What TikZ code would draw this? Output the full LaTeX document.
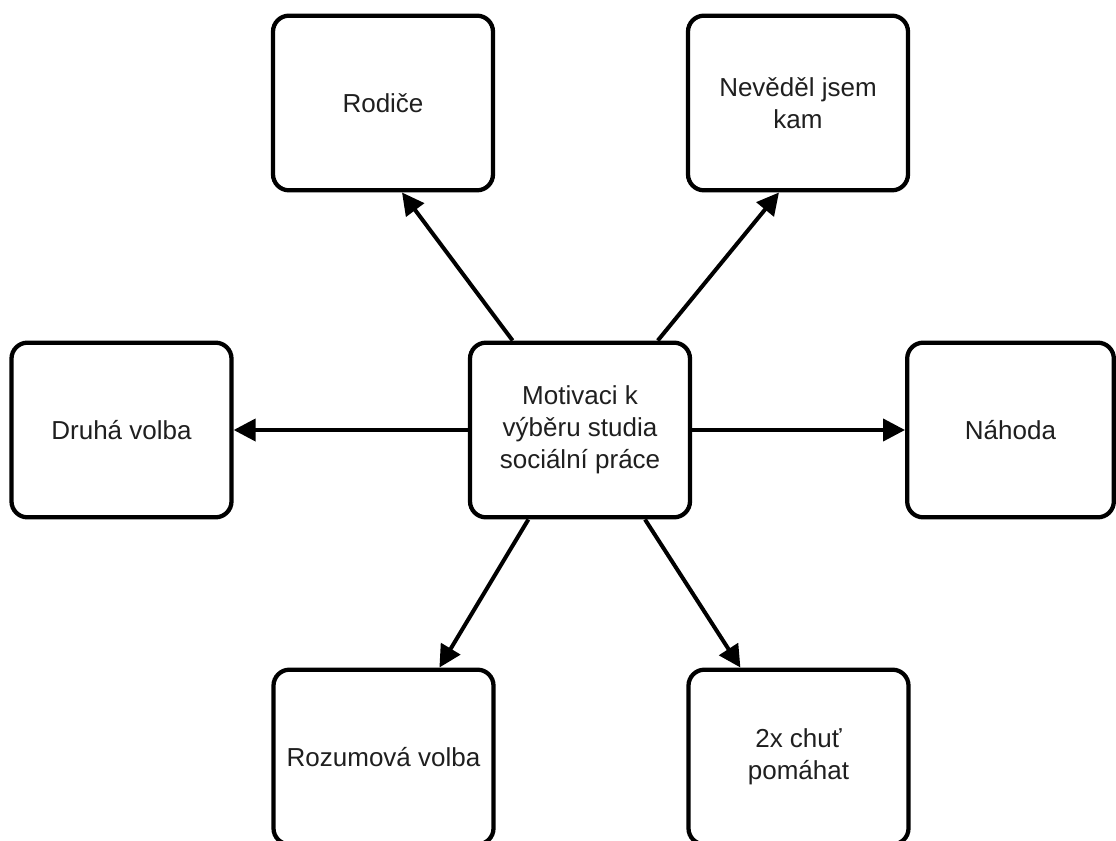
\documentclass[tikz,border=0pt]{standalone}
\usepackage{fontspec}
\setmainfont{Liberation Sans}
\usetikzlibrary{arrows.meta}

\tikzset{
  box/.style={draw, line width=3.2pt, rounded corners=12pt, fill=white,
    minimum width=165pt, minimum height=131pt, inner sep=0pt,
    align=center, text=black!88,
    font=\fontsize{19.5pt}{24pt}\selectfont},
  link/.style={line width=3pt, -{Triangle[length=16.5pt,width=16.5pt]}},
}

\begin{document}
\begin{tikzpicture}[x=0.75pt, y=-0.75pt]
  \useasboundingbox (0,0) rectangle (1116,841);
  \clip (0,0) rectangle (1116,841);

  % central topic
  \node[box] (c) at (580,430) {Motivaci k\\výběru studia\\sociální práce};

  % surrounding motives
  \node[box] (rod) at (383,103) {Rodiče};
  \node[box] (nev) at (798,103) {Nevěděl jsem\\kam};
  \node[box] (dru) at (121.5,430) {Druhá volba};
  \node[box, minimum width=155pt] (nah) at (1010.5,430) {Náhoda};
  \node[box] (roz) at (383.5,757) {Rozumová volba};
  \node[box] (chu) at (798.5,757) {2x chuť\\pomáhat};

  % connectors
  \draw[link] (c.127.6) -- (rod.282.2);
  \draw[link] (c.49.6)  -- (nev.258.4);
  \draw[link] (c.west)  -- (dru.east);
  \draw[link] (c.east)  -- (nah.west);
  \draw[link] (c.240.1) -- (roz.58);
  \draw[link] (c.306.8) -- (chu.123);
\end{tikzpicture}
\end{document}
